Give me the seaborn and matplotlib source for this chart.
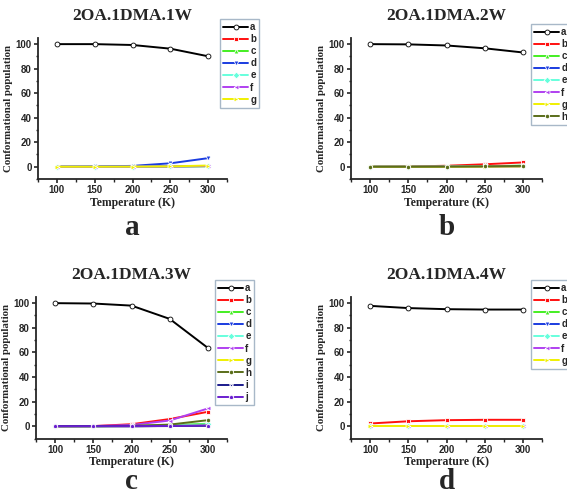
import numpy as np
import pandas as pd
import matplotlib
matplotlib.use("Agg")
import matplotlib.pyplot as plt
import seaborn as sns
from matplotlib.ticker import MultipleLocator

sns.set_style("ticks")
plt.rcParams['font.family'] = ['Liberation Sans', 'DejaVu Sans']

# Temperatures (K)
temps = [100, 150, 200, 250, 300]

# Conformational population (%) per conformer, one row per conformer
labels_1w = ['a', 'b', 'c', 'd', 'e', 'f', 'g']
pop_1w = [
    [100, 100, 99.3, 96.3, 90.1],
    [0, 0, 0.1, 0.2, 0.5],
    [0, 0, 0.1, 0.2, 0.4],
    [0, 0.2, 0.7, 2.8, 7.0],
    [0, 0, 0.1, 0.2, 0.4],
    [0, 0, 0.1, 0.2, 0.6],
    [0, 0, 0.1, 0.3, 1.0],
]

labels_2w = ['a', 'b', 'c', 'd', 'e', 'f', 'g', 'h']
pop_2w = [
    [100, 99.8, 98.9, 96.6, 93.2],
    [0, 0.2, 0.8, 2.0, 3.5],
    [0, 0, 0.1, 0.4, 0.9],
    [0, 0, 0.1, 0.2, 0.3],
    [0, 0, 0.1, 0.4, 0.8],
    [0, 0, 0.1, 0.2, 0.3],
    [0, 0, 0, 0.1, 0.2],
    [0, 0, 0.1, 0.3, 0.7],
]

labels_3w = ['a', 'b', 'c', 'd', 'e', 'f', 'g', 'h', 'i', 'j']
pop_3w = [
    [100, 99.7, 98.0, 87.2, 63.6],
    [0, 0.1, 1.6, 5.8, 11.7],
    [0, 0, 0.2, 0.8, 2.0],
    [0, 0, 0, 0.2, 0.5],
    [0, 0, 0.1, 0.5, 1.5],
    [0, 0.1, 1.0, 4.6, 14.4],
    [0, 0, 0, 0.2, 0.5],
    [0, 0, 0.3, 1.3, 4.9],
    [0, 0, 0, 0.1, 0.4],
    [0, 0, 0, 0.2, 0.5],
]

labels_4w = ['a', 'b', 'c', 'd', 'e', 'f', 'g']
pop_4w = [
    [97.8, 96.0, 95.1, 94.8, 94.8],
    [2.2, 4.0, 4.9, 5.2, 5.2],
    [0, 0, 0, 0, 0],
    [0, 0, 0, 0, 0],
    [0, 0, 0, 0, 0],
    [0, 0, 0, 0, 0],
    [0, 0, 0, 0, 0],
]

titles = ['2OA.1DMA.1W', '2OA.1DMA.2W', '2OA.1DMA.3W', '2OA.1DMA.4W']
letters = ['a', 'b', 'c', 'd']

colors = {'a': '#000000', 'b': '#FF1010', 'c': '#44EE22', 'd': '#1A3CE0',
          'e': '#66FFDD', 'f': '#B040F0', 'g': '#F0F000', 'h': '#5A6E1A',
          'i': '#1A1A8C', 'j': '#6A1FCF'}
markers = {'a': 'o', 'b': 's', 'c': '^', 'd': 'v', 'e': 'D', 'f': '<',
           'g': '>', 'h': 'h', 'i': '*', 'j': 'p'}

W, H = 567, 495
fig = plt.figure(figsize=(W / 100, H / 100), dpi=100)

# axes boxes in pixels: left, top, right, bottom
boxes = [(38, 38, 227, 179), (351, 38, 542, 179),
         (36, 297, 227, 438.5), (351, 297, 542, 438.5)]
# legend upper-left corners in pixels
leg_pos = [(220, 19), (531, 24), (215, 280), (531, 280)]
# baseline of the panel letter, pixels from top
letter_y = [235, 235, 489, 489]

panels = [(labels_1w, pop_1w), (labels_2w, pop_2w),
          (labels_3w, pop_3w), (labels_4w, pop_4w)]

serif = ['Liberation Serif', 'DejaVu Serif']

for k, (labs, pops) in enumerate(panels):
    l, t, r, b = boxes[k]
    ax = fig.add_axes([l / W, 1 - b / H, (r - l) / W, (b - t) / H])
    rows = []
    for lab, vals in zip(labs, pops):
        for T, v in zip(temps, vals):
            rows.append({'T': T, 'pop': v, 'conf': lab})
    df = pd.DataFrame(rows)
    sns.lineplot(data=df, x='T', y='pop', hue='conf', style='conf',
                 palette={c: colors[c] for c in labs},
                 markers={c: markers[c] for c in labs}, dashes=False,
                 linewidth=1.4, markersize=3.5, markeredgewidth=0.6,
                 ax=ax, legend=True)
    # hollow marker for 'a'
    for line in ax.lines:
        if line.get_color() == '#000000':
            line.set_markerfacecolor('white')
            line.set_markeredgecolor('black')
    ax.set_xlim(75, 325)
    ax.set_ylim(-10, 105)
    ax.set_xticks(temps)
    ax.set_yticks([0, 20, 40, 60, 80, 100])
    ax.xaxis.set_minor_locator(MultipleLocator(25))
    ax.yaxis.set_minor_locator(MultipleLocator(10))
    for s in ['top', 'right']:
        ax.spines[s].set_visible(False)
    for s in ['left', 'bottom']:
        ax.spines[s].set_linewidth(1.3)
    ax.tick_params(which='major', direction='out', length=3, width=1.2,
                   labelsize=7, pad=1.5)
    ax.tick_params(which='minor', direction='out', length=1.8, width=1.0)
    for tl in ax.get_xticklabels() + ax.get_yticklabels():
        tl.set_fontweight('bold')
    ax.set_xlabel('Temperature (K)', family=serif, fontweight='bold',
                  fontsize=8.5, labelpad=1)
    ax.set_ylabel('Conformational population', family=serif,
                  fontweight='bold', fontsize=7.8, labelpad=2)
    ax.set_title(titles[k], family=serif, fontweight='bold', fontsize=12.5,
                 pad=13)
    fig.text((l + r) / 2 / W, 1 - letter_y[k] / H, letters[k], ha='center',
             va='baseline', family=serif, fontweight='bold', fontsize=21)

    handles, hl = ax.get_legend_handles_labels()
    lx, ly = leg_pos[k]
    leg = ax.legend(handles, hl, loc='upper left',
                    bbox_to_anchor=(lx / W, 1 - ly / H),
                    bbox_transform=fig.transFigure, frameon=True,
                    fancybox=False, edgecolor='#A8B8C8', framealpha=1,
                    prop={'size': 7, 'weight': 'bold'}, handlelength=2.6,
                    handletextpad=0.2, labelspacing=0.22, borderpad=0.3,
                    borderaxespad=0)
    leg.get_frame().set_linewidth(1.0)

fig.savefig('out.png', dpi=100)
